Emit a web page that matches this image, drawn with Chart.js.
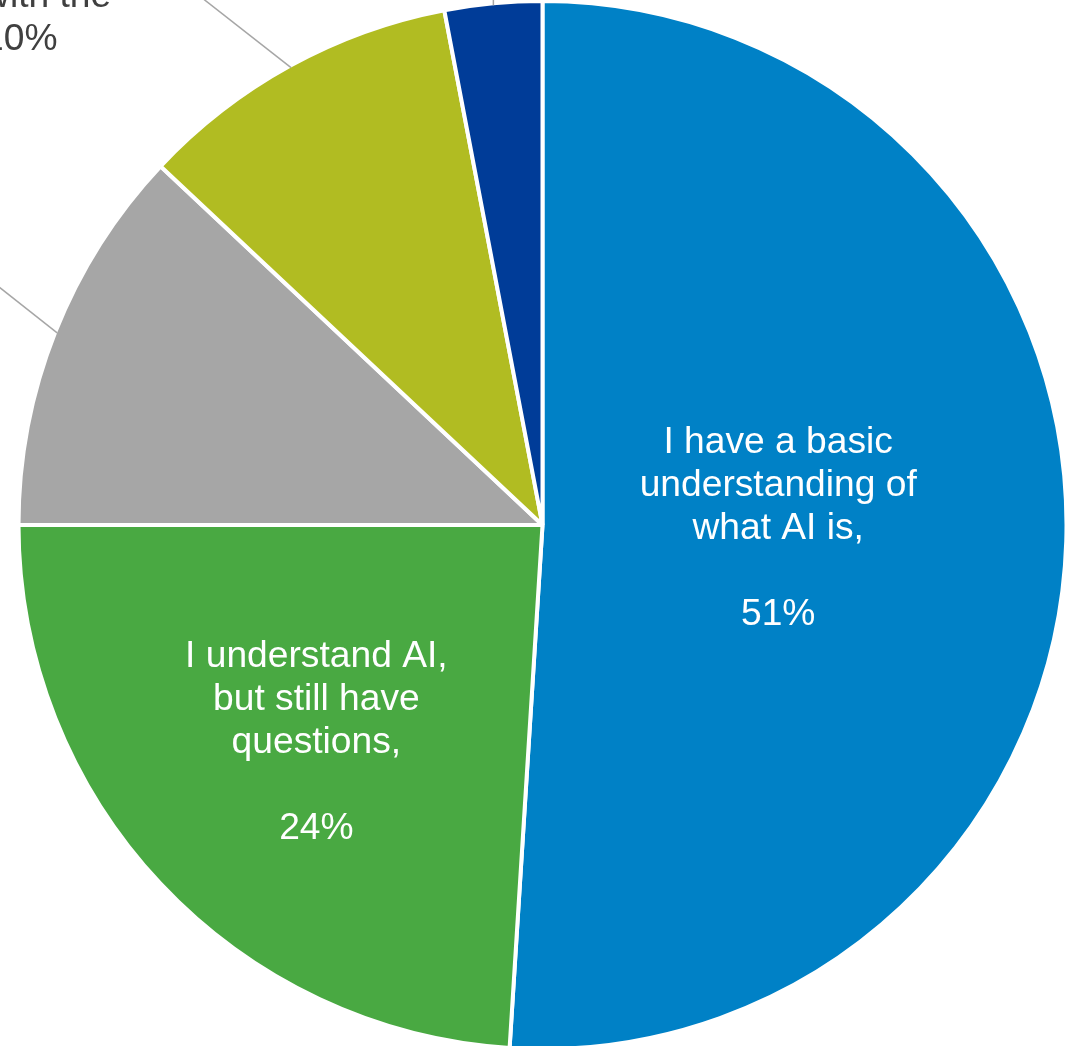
<!DOCTYPE html>
<html>
<head>
<meta charset="utf-8">
<script src="https://cdn.jsdelivr.net/npm/chart.js@4/dist/chart.umd.min.js"></script>
<style>
  html, body { margin: 0; padding: 0; background: #ffffff; overflow: hidden; }
  #wrap { position: relative; width: 1076px; height: 1046px; }
</style>
</head>
<body>
<div id="wrap"><canvas id="pie"></canvas></div>
<script>
// Survey answers, clockwise from 12 o'clock
const categories = [
  'I have a basic understanding of what AI is',
  'I understand AI, but still have questions',
  "I have heard of AI, but don't know what it is",
  "I'm not familiar with the term",
  'Other'
];
const shares = [51, 24, 12, 10, 3];
const sliceColors = ['#0081C6', '#49A942', '#A6A6A6', '#B1BC22', '#003C98'];

// Wrapped text for each data label (percentage appended when drawn)
const labelLines = [
  ['I have a basic', 'understanding of', 'what AI is,', ''],
  ['I understand AI,', 'but still have', 'questions,', ''],
  [],
  ["I'm not familiar", 'with the'],
  []
];

const FONT = '37.2px "Liberation Sans", Arial, sans-serif';
const LINE_H = 43;
const BORDER = 4;

// Where each label sits: inside on the bisector, or outside with a leader line
const placement = [
  { inside: true, r: 0.45, dy: -4 },
  { inside: true, r: 0.592, dy: 5 },
  { lead: [-100, -79] },
  { lead: [-138, -108], text: [-308, -17.5] },
  { lead: [0, -20] }
];

const pieLabels = {
  id: 'pieLabels',
  afterDatasetsDraw(chart) {
    const ctx = chart.ctx;
    const arcs = chart.getDatasetMeta(0).data;
    ctx.save();
    ctx.font = FONT;
    arcs.forEach((arc, i) => {
      const p = placement[i];
      const { x, y, startAngle, endAngle, outerRadius } =
        arc.getProps(['x', 'y', 'startAngle', 'endAngle', 'outerRadius'], true);
      const mid = (startAngle + endAngle) / 2;
      const pct = shares[i] + '%';
      const lines = labelLines[i].concat([pct]);

      if (p.inside) {
        const r = outerRadius * p.r;
        const cx = x + Math.cos(mid) * r;
        const cy = y + Math.sin(mid) * r + p.dy;
        ctx.fillStyle = '#ffffff';
        ctx.textAlign = 'center';
        ctx.textBaseline = 'middle';
        const top = cy - ((lines.length - 1) * LINE_H) / 2;
        lines.forEach((ln, k) => ctx.fillText(ln, cx, top + k * LINE_H));
        return;
      }

      // leader line from the visible rim of the slice
      const rim = outerRadius - BORDER / 2;
      const ex = x + Math.cos(mid) * rim;
      const ey = y + Math.sin(mid) * rim;
      ctx.strokeStyle = '#A6A6A6';
      ctx.lineWidth = 1.5;
      ctx.beginPath();
      ctx.moveTo(ex, ey);
      ctx.lineTo(ex + p.lead[0], ey + p.lead[1]);
      ctx.stroke();

      if (p.text) {
        ctx.fillStyle = '#404040';
        ctx.textAlign = 'left';
        ctx.textBaseline = 'alphabetic';
        const lx = ex + p.text[0];
        const lastY = ey + p.text[1];
        lines.forEach((ln, k) => {
          ctx.fillText(ln, lx, lastY - (lines.length - 1 - k) * LINE_H);
        });
      }
    });
    ctx.restore();
  }
};

new Chart(document.getElementById('pie'), {
  type: 'pie',
  data: {
    labels: categories,
    datasets: [{
      data: shares,
      backgroundColor: sliceColors,
      borderColor: '#ffffff',
      borderWidth: BORDER,
      radius: 524
    }]
  },
  options: {
    responsive: true,
    maintainAspectRatio: false,
    animation: false,
    layout: { padding: { left: 21, right: 12, top: 4, bottom: 0 } },
    plugins: {
      legend: { display: false },
      tooltip: { enabled: false }
    }
  },
  plugins: [pieLabels]
});
</script>
</body>
</html>
